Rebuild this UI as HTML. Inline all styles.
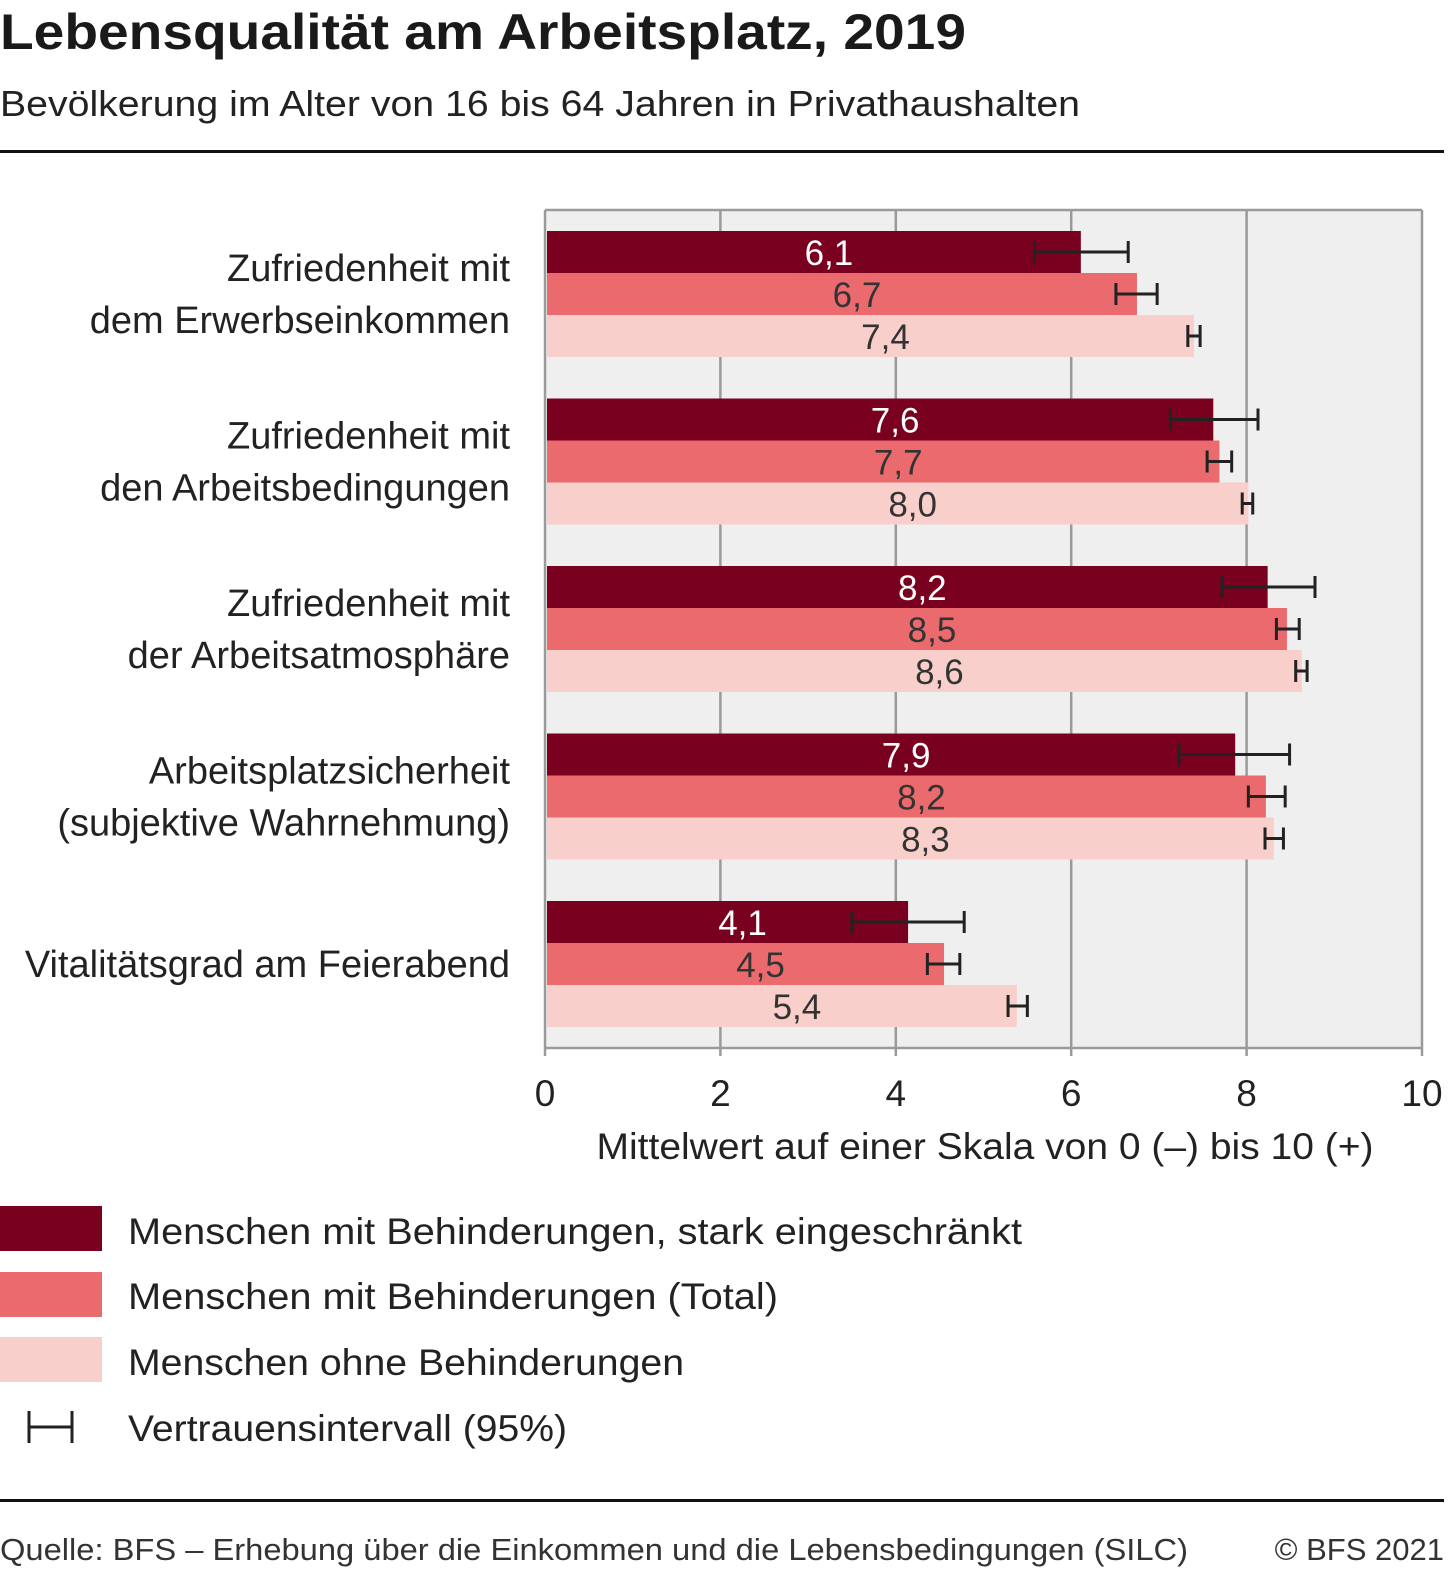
<!DOCTYPE html>
<html><head><meta charset="utf-8">
<style>
body{margin:0;background:#fff;width:1456px;height:1581px;overflow:hidden;font-family:"Liberation Sans",sans-serif;}
svg text{font-family:"Liberation Sans",sans-serif;}
</style></head>
<body>
<svg id="chart" width="1456" height="1581" xmlns="http://www.w3.org/2000/svg">
<text x="0" y="49" font-size="50" font-weight="bold" fill="#1a1a1a" textLength="966" lengthAdjust="spacingAndGlyphs">Lebensqualität am Arbeitsplatz, 2019</text>
<text x="0" y="116" font-size="36" fill="#222" textLength="1080" lengthAdjust="spacingAndGlyphs">Bevölkerung im Alter von 16 bis 64 Jahren in Privathaushalten</text>
<rect x="0" y="150" width="1444" height="3" fill="#111"/>
<g id="plot"></g>
<g id="legend">
<rect x="0" y="1206" width="102" height="45" fill="#7a0020"/>
<text x="128" y="1244" font-size="37" fill="#222" textLength="894" lengthAdjust="spacingAndGlyphs">Menschen mit Behinderungen, stark eingeschränkt</text>
<rect x="0" y="1272" width="102" height="45" fill="#eb6a6e"/>
<text x="128" y="1309" font-size="37" fill="#222" textLength="650" lengthAdjust="spacingAndGlyphs">Menschen mit Behinderungen (Total)</text>
<rect x="0" y="1337" width="102" height="45" fill="#f8cfcb"/>
<text x="128" y="1375" font-size="37" fill="#222" textLength="556" lengthAdjust="spacingAndGlyphs">Menschen ohne Behinderungen</text>
<path d="M29 1411V1443M29 1427H72M72 1411V1443" stroke="#222" stroke-width="3" fill="none"/>
<text x="128" y="1441" font-size="37" fill="#222" textLength="439" lengthAdjust="spacingAndGlyphs">Vertrauensintervall (95%)</text>
</g>
<rect x="0" y="1499" width="1444" height="3" fill="#111"/>
<text x="0" y="1560" font-size="31" fill="#333" textLength="1188" lengthAdjust="spacingAndGlyphs">Quelle: BFS – Erhebung über die Einkommen und die Lebensbedingungen (SILC)</text>
<text x="1444" y="1560" font-size="31" fill="#333" text-anchor="end">© BFS 2021</text>
</svg>
<script>
const categories=[["Zufriedenheit mit","dem Erwerbseinkommen"],["Zufriedenheit mit","den Arbeitsbedingungen"],["Zufriedenheit mit","der Arbeitsatmosphäre"],["Arbeitsplatzsicherheit","(subjektive Wahrnehmung)"],["Vitalitätsgrad am Feierabend"]];
const seriesNames=["stark","total","ohne"];
const starkValues=[6.11,7.62,8.24,7.87,4.14];
const totalValues=[6.75,7.69,8.46,8.22,4.55];
const ohneValues=[7.4,8.02,8.63,8.31,5.38];
const starkLabels=["6,1","7,6","8,2","7,9","4,1"];
const totalLabels=["6,7","7,7","8,5","8,2","4,5"];
const ohneLabels=["7,4","8,0","8,6","8,3","5,4"];
const starkCI=[[5.58,6.65],[7.13,8.13],[7.72,8.78],[7.23,8.49],[3.5,4.78]];
const totalCI=[[6.51,6.98],[7.55,7.83],[8.34,8.6],[8.02,8.44],[4.36,4.73]];
const ohneCI=[[7.33,7.47],[7.95,8.07],[8.56,8.69],[8.21,8.42],[5.28,5.5]];
const xTicks=[0,2,4,6,8,10];
const xTickLabels=["0","2","4","6","8","10"];

const NS="http://www.w3.org/2000/svg";
const X0=545,X1=1422,Y0=210,Y1=1048,XMAX=10;
const xs=v=>X0+(X1-X0)*v/XMAX;
const groupTop=i=>231+i*167.5;
const BH=42;
const plotG=document.getElementById('plot');
function mk(t,a){const e=document.createElementNS(NS,t);for(const k in a)e.setAttribute(k,a[k]);plotG.appendChild(e);return e;}
const bg=mk('rect',{x:X0,y:Y0,width:X1-X0,height:Y1-Y0,fill:'#efefef'});


xTicks.forEach((t,i)=>{
 const l=mk('line',{x1:xs(t),x2:xs(t),y1:Y0,y2:Y1+8,stroke:'#9a9a9a','stroke-width':2.5});
 
 
 const tx=mk('text',{x:xs(t),y:1106,'font-size':37,'text-anchor':'middle',fill:'#222'});
 tx.textContent=xTickLabels[i];
 
 
});
const topBorder=mk('line',{x1:X0,x2:X1,y1:Y0,y2:Y0,stroke:'#9a9a9a','stroke-width':2.5});


const botBorder=mk('line',{x1:X0,x2:X1,y1:Y1,y2:Y1,stroke:'#9a9a9a','stroke-width':2.5});


const at=mk('text',{x:985,y:1159,'font-size':37,'text-anchor':'middle',fill:'#222',textLength:777,lengthAdjust:'spacingAndGlyphs'});
at.textContent="Mittelwert auf einer Skala von 0 (–) bis 10 (+)";


const series=[[starkValues,starkLabels,starkCI,'#7a0020','#fff'],[totalValues,totalLabels,totalCI,'#eb6a6e','#333'],[ohneValues,ohneLabels,ohneCI,'#f8cfcb','#333']];
categories.forEach((c,i)=>{
 const gt=groupTop(i), cy=gt+BH*1.5;
 c.forEach((line,j)=>{
  const t=mk('text',{x:510,y:cy+13+(j-(c.length-1)/2)*52,'font-size':38,'text-anchor':'end',fill:'#222'});
  t.textContent=line;
  
  
 });
 series.forEach((s,k)=>{
  const [vals,labs,ci,col,tc]=s, y=gt+k*BH, v=vals[i];
  const b=mk('rect',{x:X0+2,y:y,width:xs(v)-X0-2,height:BH,fill:col});
  
  
  const lt=mk('text',{x:(X0+xs(v))/2+16,y:y+34,'font-size':35,'text-anchor':'middle',fill:tc});
  lt.textContent=labs[i];
  
  
  const a=xs(ci[i][0]),bb=xs(ci[i][1]),m=y+BH/2;
  const e=mk('path',{d:`M${a} ${m-11}V${m+11}M${a} ${m}H${bb}M${bb} ${m-11}V${m+11}`,stroke:'#222','stroke-width':3,fill:'none'});
  
  
 });
});
</script>
</body></html>
